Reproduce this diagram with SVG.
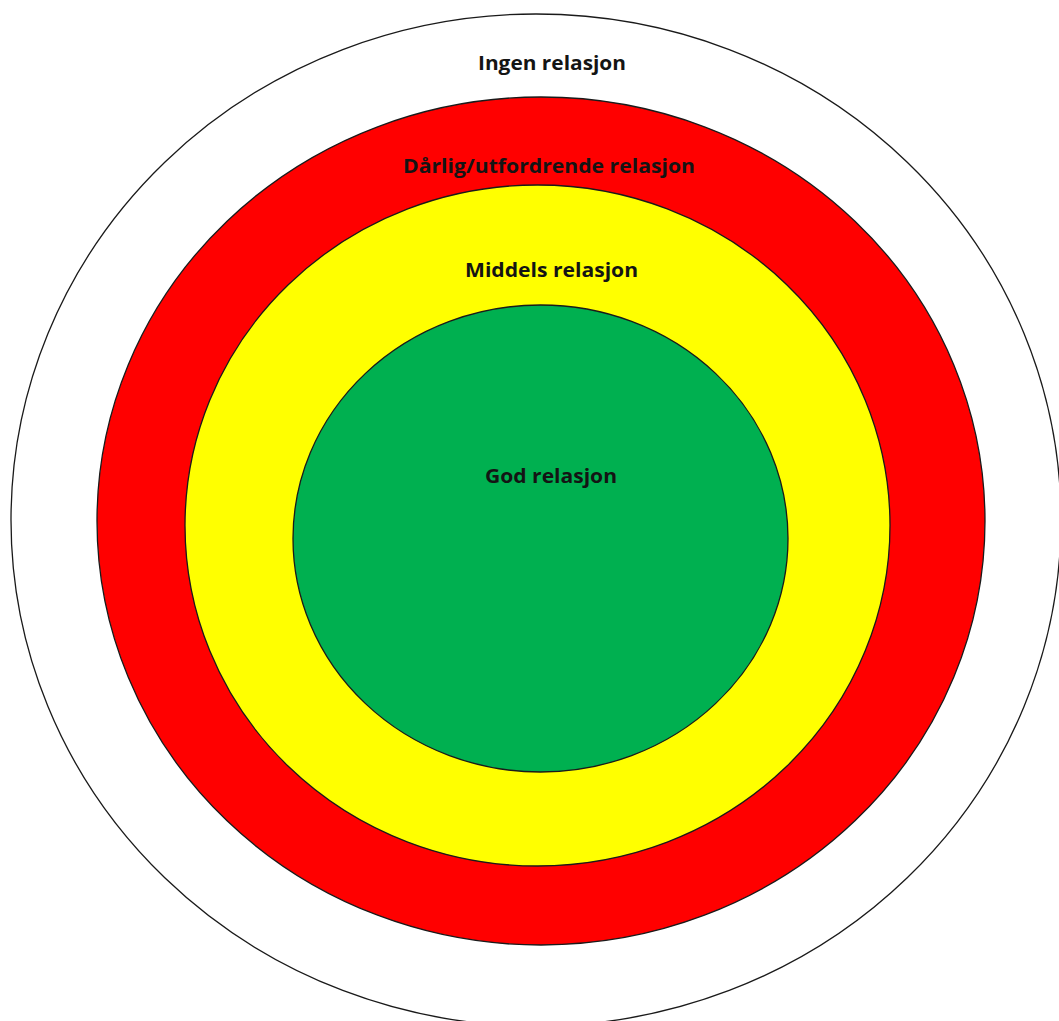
<svg xmlns="http://www.w3.org/2000/svg" width="1059" height="1021" viewBox="0 0 1059 1021">
<style>
.ring{stroke:#1a1a1a;stroke-width:1.3}
.lbl{font-family:"Open Sans","Liberation Sans",sans-serif;font-weight:bold;font-size:20px;fill:#141414;text-anchor:middle}
</style>
<rect width="1059" height="1021" fill="#ffffff"/>
<g id="ingen">
<ellipse class="ring" cx="536" cy="520" rx="525" ry="506" fill="#ffffff"/>
<text class="lbl" x="552" y="70" textLength="148" lengthAdjust="spacingAndGlyphs">Ingen relasjon</text>
</g>
<g id="darlig">
<ellipse class="ring" cx="541" cy="521" rx="444" ry="424" fill="#ff0000"/>
<text class="lbl" x="549" y="173" textLength="292" lengthAdjust="spacingAndGlyphs">Dårlig/utfordrende relasjon</text>
</g>
<g id="middels">
<ellipse class="ring" cx="537.5" cy="525.5" rx="352.5" ry="340.5" fill="#ffff00"/>
<text class="lbl" x="551.5" y="277" textLength="173" lengthAdjust="spacingAndGlyphs">Middels relasjon</text>
</g>
<g id="god">
<ellipse class="ring" cx="540.5" cy="538.5" rx="247.5" ry="233.5" fill="#00b050"/>
<text class="lbl" x="551" y="483" textLength="132" lengthAdjust="spacingAndGlyphs">God relasjon</text>
</g>
<g id="connectors"/>
</svg>
